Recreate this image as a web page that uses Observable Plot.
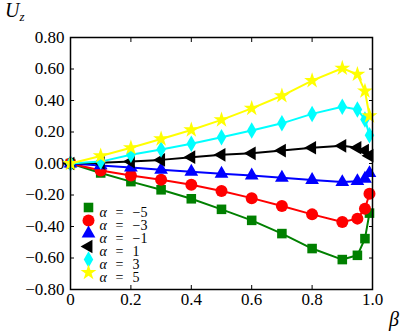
<!DOCTYPE html>
<html>
<head>
<meta charset="utf-8">
<script src="https://cdn.jsdelivr.net/npm/d3@7"></script>
<script src="https://cdn.jsdelivr.net/npm/@observablehq/plot@0.6"></script>
<style>
  html, body { margin: 0; padding: 0; background: #fff; }
  #chart { position: relative; width: 407px; height: 333px; }
</style>
</head>
<body>
<div id="chart"></div>
<script>
// ---- data ----
const betas = [0, 0.1, 0.2, 0.3, 0.4, 0.5, 0.6, 0.7, 0.8, 0.9, 0.95, 0.975, 0.99];
const alphas = [-5, -3, -1, 1, 3, 5];
const uzM5 = [0, -0.06, -0.115, -0.167, -0.224, -0.291, -0.361, -0.445, -0.54, -0.61, -0.583, -0.477, -0.315];
const uzM3 = [0, -0.045, -0.076, -0.103, -0.135, -0.175, -0.22, -0.27, -0.323, -0.372, -0.35, -0.287, -0.192];
const uzM1 = [0, -0.012, -0.025, -0.04, -0.052, -0.065, -0.076, -0.09, -0.105, -0.118, -0.112, -0.097, -0.061];
const uzP1 = [0, 0.004, 0.012, 0.023, 0.04, 0.055, 0.065, 0.082, 0.1, 0.112, 0.1, 0.082, 0.05];
const uzP3 = [0, 0.012, 0.055, 0.089, 0.125, 0.167, 0.209, 0.255, 0.315, 0.36, 0.343, 0.28, 0.18];
const uzP5 = [0, 0.048, 0.1, 0.156, 0.213, 0.277, 0.35, 0.43, 0.526, 0.605, 0.566, 0.46, 0.302];
const xTicks = [0, 0.2, 0.4, 0.6, 0.8, 1.0];
const yTicks = [-0.8, -0.6, -0.4, -0.2, 0, 0.2, 0.4, 0.6, 0.8];
const legendValues = ["\u22125", "\u22123", "\u22121", "1", "3", "5"];

// ---- styles ----
const FONT = "Liberation Serif";
const triangleLeft = {
  draw(context, size) {
    const y = -Math.sqrt(size / (Math.sqrt(3) * 3));
    context.moveTo(2 * y, 0);
    context.lineTo(-y, Math.sqrt(3) * y);
    context.lineTo(-y, -Math.sqrt(3) * y);
    context.closePath();
  }
};
const seriesValues = [uzM5, uzM3, uzM1, uzP1, uzP3, uzP5];
const colors = ["#008000", "#ff0000", "#0000ff", "#000000", "#00ffff", "#ffff00"];
const symbols = ["square", "circle", "triangle", triangleLeft, "diamond", "star"];
const radii = [5.4, 6.0, 5.1, 5.1, 5.0, 5.0];

const series = alphas.map((a, i) => ({
  alpha: a,
  color: colors[i],
  symbol: symbols[i],
  r: radii[i],
  rows: betas.map((b, j) => ({beta: b, uz: seriesValues[i][j]}))
}));

const fmtX = d => d === 0 ? "0" : d.toFixed(1);
const fmtY = d => (d < 0 ? "\u2212" : "") + Math.abs(d).toFixed(2);
const blank = () => "";

const marks = [];
// inward ticks on all four sides
marks.push(Plot.axisY({ticks: yTicks, anchor: "left", tickSize: 4, dx: 4, tickFormat: blank, label: null, strokeWidth: 1}));
marks.push(Plot.axisY({ticks: yTicks, anchor: "right", tickSize: 4, dx: -4, tickFormat: blank, label: null, strokeWidth: 1}));
marks.push(Plot.axisX({ticks: xTicks, anchor: "bottom", tickSize: 4, dy: -4, tickFormat: blank, label: null, strokeWidth: 1}));
marks.push(Plot.axisX({ticks: xTicks, anchor: "top", tickSize: 4, dy: 4, tickFormat: blank, label: null, strokeWidth: 1}));
// tick labels (serif, placed through the scales)
marks.push(Plot.text(yTicks, {y: d => d, frameAnchor: "left", dx: -6, text: fmtY, textAnchor: "end", fontFamily: FONT, fontSize: 17, fill: "#000"}));
marks.push(Plot.text(xTicks, {x: d => d, frameAnchor: "bottom", dy: 15, text: fmtX, textAnchor: "middle", fontFamily: FONT, fontSize: 17, fill: "#000"}));

for (const s of series) {
  marks.push(Plot.line(s.rows, {x: "beta", y: "uz", stroke: s.color, strokeWidth: 2}));
  marks.push(Plot.dot(s.rows, {x: "beta", y: "uz", fill: s.color, stroke: "none", symbol: s.symbol, r: s.r}));
}

// legend
series.forEach((s, i) => {
  const dy = 170 + 13 * i;
  marks.push(Plot.dot([s], {frameAnchor: "top-left", dx: 18, dy, fill: s.color, stroke: "none", symbol: s.symbol, r: s.r}));
  marks.push(Plot.text(["\u03b1"], {frameAnchor: "top-left", dx: 29, dy, text: d => d, textAnchor: "start", fontStyle: "italic", fontSize: 14, fontFamily: FONT, fill: "#000"}));
  marks.push(Plot.text(["="], {frameAnchor: "top-left", dx: 45, dy, text: d => d, textAnchor: "start", fontSize: 14, fontFamily: FONT, fill: "#000"}));
  marks.push(Plot.text([legendValues[i]], {frameAnchor: "top-left", dx: 62, dy, text: d => d, textAnchor: "start", fontSize: 14, fontFamily: FONT, fill: "#000"}));
});

marks.push(Plot.frame({stroke: "#000", strokeWidth: 1.5}));

const plot = Plot.plot({
  width: 407,
  height: 333,
  marginLeft: 70,
  marginRight: 35,
  marginTop: 37,
  marginBottom: 44,
  x: {domain: [0, 1], axis: null},
  y: {domain: [-0.8, 0.8], axis: null},
  style: {fontFamily: FONT, fontSize: "17px", background: "#fff", color: "#000"},
  marks
});

// axis titles: U_z and beta
const svg = d3.select(plot);
const ut = svg.append("text")
  .attr("x", 5).attr("y", 17)
  .attr("font-family", FONT)
  .attr("font-size", 20)
  .attr("font-style", "italic")
  .attr("text-anchor", "start")
  .attr("fill", "#000");
ut.append("tspan").text("U");
ut.append("tspan").attr("dy", 4).attr("font-size", 13).text("z");
svg.append("text")
  .attr("x", 389).attr("y", 326)
  .attr("font-family", FONT)
  .attr("font-size", 20)
  .attr("font-style", "italic")
  .attr("text-anchor", "start")
  .attr("fill", "#000")
  .text("\u03b2");

document.getElementById("chart").appendChild(plot);
</script>
</body>
</html>
